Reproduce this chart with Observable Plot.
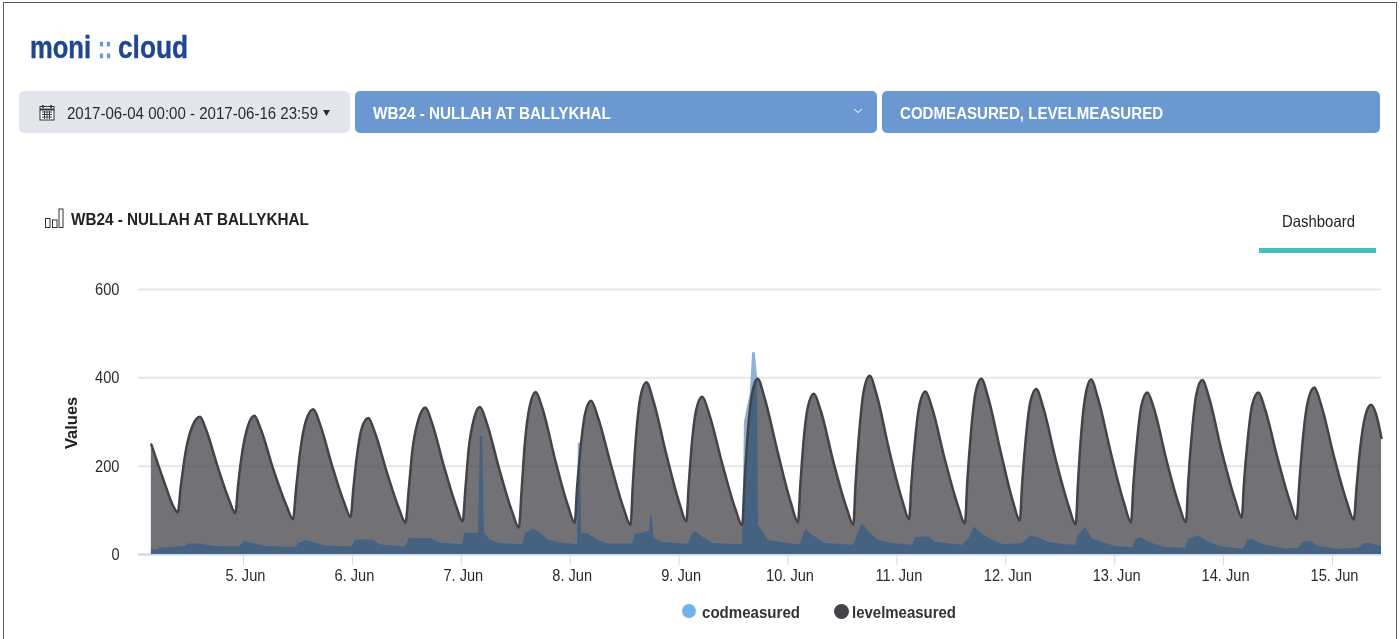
<!DOCTYPE html>
<html>
<head>
<meta charset="utf-8">
<script src="https://cdn.jsdelivr.net/npm/d3@7"></script>
<script src="https://cdn.jsdelivr.net/npm/@observablehq/plot@0.6"></script>
<style>
html,body{margin:0;padding:0;background:#fff;overflow:hidden}
#page{position:relative;width:1400px;height:639px;font-family:"Liberation Sans",Arial,sans-serif;overflow:hidden}
#frame{position:absolute;left:3px;top:2px;width:1392px;height:660px;border:1.5px solid #5a5a5a}
.box{position:absolute;top:91px;height:42px;border-radius:5px}
.t{position:absolute;white-space:nowrap;transform-origin:0 50%;line-height:1}
.logo{top:32px;font-size:31px;font-weight:bold;color:#1f4690;-webkit-text-stroke:.4px #1f4690}
#chart{position:absolute;left:0;top:260px}
.dot{position:absolute;border-radius:50%}
svg.ic{position:absolute}
</style>
</head>
<body>
<div id="page">
<div id="frame"></div>
<div class="t logo" data-w="61" style="left:30px">moni</div>
<div class="t logo" data-w="14" style="left:98px;color:#5f9bdb;-webkit-text-stroke:.4px #5f9bdb">::</div>
<div class="t logo" data-w="70" style="left:118px">cloud</div>
<div class="box" style="left:19px;width:331px;background:#e3e7ed"></div>
<div class="box" style="left:355px;width:522px;background:#6b98d1"></div>
<div class="box" style="left:882px;width:498px;background:#6b98d1"></div>
<svg class="ic" style="left:39px;top:104px" width="16" height="17" viewBox="0 0 16 17" fill="none" stroke="#333">
  <rect x="1" y="2.5" width="14" height="13.5" fill="#fff"/><path d="M1 5.5h14" stroke-width="2"/><path d="M4 1v3M12 1v3" stroke-width="1.6"/>
  <path d="M3 8h10M3 10.5h10M3 13h10M5.5 7v8M8 7v8M10.5 7v8" stroke-width=".9"/>
</svg>
<div class="t" data-w="251" style="left:67px;top:105px;font-size:16.5px;color:#2b2b2b">2017-06-04 00:00 - 2017-06-16 23:59</div>
<svg class="ic" style="left:323px;top:110px" width="7" height="6"><path d="M0 0H7L3.5 6Z" fill="#2b2b2b"/></svg>
<div class="t" data-w="238" style="left:373px;top:105px;font-size:16.5px;font-weight:bold;color:#fff">WB24 - NULLAH AT BALLYKHAL</div>
<svg class="ic" style="left:853px;top:108px" width="10" height="6" fill="none" stroke="#fff"><path d="M1 1L5 4.5L9 1"/></svg>
<div class="t" data-w="263" style="left:900px;top:105px;font-size:16.5px;font-weight:bold;color:#fff">CODMEASURED, LEVELMEASURED</div>
<svg class="ic" style="left:45px;top:207px" width="20" height="21" fill="none" stroke="#333" stroke-width="1"><rect x=".5" y="11.5" width="4.5" height="9"/><rect x="7.5" y="13" width="4.5" height="7.5"/><rect x="14" y="2" width="4" height="18.5"/></svg>
<div class="t" data-w="238" style="left:71px;top:211px;font-size:16.5px;font-weight:bold;color:#222">WB24 - NULLAH AT BALLYKHAL</div>
<div class="t" data-w="73" style="left:1282px;top:213px;font-size:16.5px;color:#222">Dashboard</div>
<div style="position:absolute;left:1259px;top:248px;width:117px;height:5px;background:#42bfbf"></div>
<div id="chart"></div>
<div class="dot" style="left:682px;top:604px;width:14px;height:14px;background:#72b2e6"></div>
<div class="t" data-w="98" style="left:702px;top:604px;font-size:16.5px;font-weight:bold;color:#333">codmeasured</div>
<div class="dot" style="left:834px;top:604px;width:15px;height:15px;background:#434348"></div>
<div class="t" data-w="104" style="left:852px;top:604px;font-size:16.5px;font-weight:bold;color:#333">levelmeasured</div>
</div>
<script>
// hours since 2017-06-04 00:00 UTC
const levelHours = [
3.7,6.4,8.6,9.5,
10.2,11.2,12.7,14.4,15.7,18.3,20.9,22.2,
22.8,23.7,25.0,26.4,27.8,30.6,33.5,34.9,
35.6,36.5,37.8,39.4,40.8,43.5,46.2,47.6,
48.2,49.0,50.1,51.5,52.9,55.6,58.3,59.7,
60.4,61.2,62.6,64.1,65.5,68.2,70.9,72.3,
72.9,73.6,74.8,76.1,77.6,80.4,83.2,84.7,
85.3,86.0,87.1,88.4,89.9,92.7,95.5,97.0,
97.5,98.3,99.3,100.6,102.1,105.0,107.8,109.3,
109.8,110.5,111.5,112.8,114.3,117.2,120.1,121.6,
122.1,122.8,123.8,125.1,126.6,129.5,132.4,133.9,
134.4,135.1,136.1,137.3,138.8,141.8,144.7,146.2,
146.7,147.4,148.4,149.7,151.2,154.0,156.9,158.4,
158.9,159.7,160.7,162.0,163.5,166.3,169.2,170.7,
171.2,172.0,173.0,174.3,175.8,178.6,181.5,183.0,
183.5,184.3,185.3,186.6,188.1,190.9,193.6,195.1,
195.6,196.4,197.4,198.7,200.2,203.0,205.9,207.4,
207.9,208.6,209.6,210.8,212.3,215.2,218.1,219.6,
220.1,220.9,221.9,223.2,224.7,227.4,230.2,231.7,
232.2,233.0,234.0,235.3,236.8,239.6,242.5,244.0,
244.5,245.3,246.3,247.7,249.1,251.9,254.7,256.1,
256.7,257.5,258.6,260.0,261.5,264.3,267.2,268.7,
269.3,270.1,271.2,272.5,273.6,274.8];
const levelValues = [
249,168,108,95,
156,230,290,312,284,199,122,94,
156,230,292,314,284,192,110,80,
150,234,304,329,297,202,117,85,
148,224,287,309,278,186,103,72,
145,234,307,333,299,199,109,75,
148,236,308,334,298,192,97,61,
147,251,337,368,330,214,111,72,
149,243,320,348,311,202,104,67,
157,267,358,390,349,226,115,75,
154,250,329,357,319,206,103,66,
159,272,365,398,356,229,115,73,
154,253,335,364,326,210,106,68,
162,277,371,405,363,236,122,80,
161,259,340,369,330,214,109,70,
162,273,365,398,356,231,119,77,
160,262,345,375,335,215,108,68,
160,271,363,396,354,228,115,73,
155,255,338,367,329,214,111,73,
163,273,363,395,355,233,125,84,
163,259,339,367,330,218,117,80,
163,265,348,378,339,223,118,79,
152,240,313,339,318,264];
const codHours = [
3.7,4.6,5.7,11.2,11.9,14.5,17.8,22.9,23.6,24.2,26.6,28.9,35.5,36.1,37.7,39.9,42.1,48.0,48.6,52.4,54.2,
59.7,60.6,65.2,67.4,72.3,72.7,75.8,76.2,76.7,77.1,78.4,80.6,85.5,86.2,87.9,89.5,91.2,93.9,97.6,97.8,98.3,98.5,
99.8,102.2,104.4,109.7,110.4,112.6,113.5,113.7,114.1,114.4,116.3,122.1,122.9,123.6,125.8,127.6,134.0,134.4,135.7,136.2,136.8,137.3,137.5,
139.7,144.1,146.7,147.2,147.9,149.0,150.5,152.3,158.4,159.3,160.4,161.7,163.9,167.0,171.5,172.1,175.0,176.5,182.5,183.8,185.1,186.9,189.1,191.5,
195.7,197.5,199.2,201.4,205.2,207.4,208.0,209.6,211.1,213.3,216.2,219.9,220.6,221.7,224.3,227.2,231.6,232.3,234.5,236.7,239.8,
244.4,245.3,246.4,249.2,253.7,256.5,257.4,259.2,260.9,265.3,269.7,270.6,271.7,274.8];
const codValues = [
14,9,14,18,24,24,18,17,22,30,24,18,16,24,32,26,19,17,33,33,22,
17,36,36,26,22,48,48,267,267,48,32,25,22,48,57,48,32,26,22,252,252,48,
47,32,24,24,46,50,54,87,87,38,27,23,46,52,35,25,22,300,365,457,457,400,66,
32,25,22,37,59,46,37,25,21,43,70,52,32,25,21,38,40,28,21,35,62,46,32,22,
25,42,38,27,22,21,43,62,35,28,18,16,32,38,25,16,14,35,42,28,17,
12,32,34,21,12,14,27,30,18,12,14,22,26,18];
const yTicks = [0,200,400,600];
const xTickDays = [5,6,7,8,9,10,11,12,13,14,15];
const xStartHour = 0.86, xEndHour = 274.8;

const toDate = h => new Date(Date.UTC(2017,5,4) + h*36e5);
const level = d3.zip(levelHours, levelValues).map(([h,v]) => ({t:toDate(h), v}));
const cod = d3.zip(codHours, codValues).map(([h,v]) => ({t:toDate(h), v}));
const tickDates = xTickDays.map(d => new Date(Date.UTC(2017,5,d)));

const chart = Plot.plot({
  width: 1400, height: 330,
  marginLeft: 138, marginRight: 19, marginTop: 29, marginBottom: 36,
  style: {background:"transparent", fontFamily:'"Liberation Sans",Arial,sans-serif'},
  x: {type:"utc", domain:[toDate(xStartHour), toDate(xEndHour)]},
  y: {domain:[0,600]},
  marks: [
    Plot.ruleY(yTicks.filter(d=>d>0), {stroke:"#e6e6ea", strokeWidth:2}),
    Plot.ruleY([0], {stroke:"#d5dbe6", strokeWidth:2.5}),
    Plot.axisY({ticks:yTicks, tickSize:0, tickPadding:19, fontSize:17, fill:"#2b2b2b", label:null}),
    Plot.axisX({ticks:tickDates, tickSize:11, stroke:"#d9d9d9", fill:"none", label:null}),
    Plot.axisX({ticks:tickDates, tickSize:0, tickPadding:14, dx:2, stroke:"none", fontSize:17, fill:"#2b2b2b", label:null, tickFormat:d=>`${d.getUTCDate()}. Jun`}),
    Plot.text(["Values"], {frameAnchor:"left", dx:-67, dy:27, rotate:-90, fontWeight:"bold", fontSize:16.5, fill:"#222"}),
    Plot.areaY(cod, {x:"t", y:"v", fill:"#7cb5ec"}),
    Plot.areaY(level, {x:"t", y:"v", curve:"monotone-x", fill:"#434348", fillOpacity:0.75}),
    Plot.areaY(cod, {x:"t", y:"v", fill:"#5d7d9e", fillOpacity:0.85, mixBlendMode:"color"}),
    Plot.lineY(level, {x:"t", y:"v", curve:"monotone-x", stroke:"#434348", strokeWidth:2.5})
  ]
});
document.getElementById("chart").appendChild(chart);
// the reference is horizontally condensed: narrow the real text to the widths seen
chart.querySelectorAll("text").forEach(el => {
  if (el.textContent === "Values") return;
  if (el.getComputedTextLength) {
    el.setAttribute("textLength", (el.getComputedTextLength()*0.86).toFixed(1));
    el.setAttribute("lengthAdjust","spacingAndGlyphs");
  }
});
document.querySelectorAll(".t[data-w]").forEach(el => {
  const w = el.getBoundingClientRect().width;
  el.style.transform = `scaleX(${(+el.dataset.w/w).toFixed(3)})`;
});
</script>
</body>
</html>
